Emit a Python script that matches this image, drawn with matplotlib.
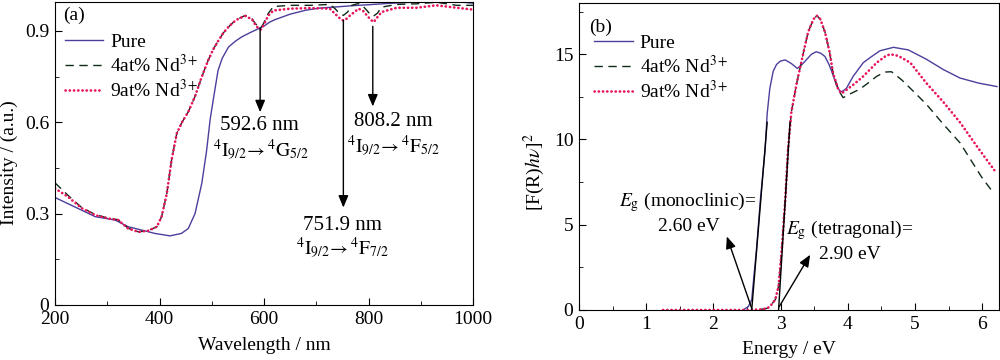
import matplotlib
matplotlib.use("Agg")
import matplotlib.pyplot as plt
from matplotlib.ticker import MultipleLocator

plt.rcParams['font.family'] = ['Liberation Serif', 'DejaVu Serif']
plt.rcParams['mathtext.fontset'] = 'stix'
plt.rcParams['font.size'] = 14

# (a) reflectance spectra
wl_pure = [200, 238, 277, 315, 340, 366, 391, 420, 442, 455, 468, 481, 490, 497, 503,
           512, 520, 532, 545, 557, 573, 589, 600, 611, 621, 650, 680, 707, 740, 771,
           800, 835, 870, 899, 930, 962, 1000]
int_pure = [0.353, 0.322, 0.290, 0.279, 0.257, 0.246, 0.235, 0.227, 0.235, 0.251, 0.300,
            0.400, 0.505, 0.610, 0.675, 0.770, 0.810, 0.847, 0.866, 0.880, 0.894, 0.907,
            0.916, 0.929, 0.937, 0.955, 0.968, 0.975, 0.979, 0.983, 0.986, 0.990, 0.993,
            0.995, 0.996, 0.997, 0.991]

wl_4 = [200, 225, 251, 277, 302, 321, 340, 360, 379, 395, 404, 414, 423, 433, 443, 455,
        468, 480, 493, 503, 513, 522, 532, 541, 551, 564, 577, 583, 589, 594, 599, 608,
        618, 650, 688, 726, 736, 744, 752, 760, 768, 781, 790, 797, 803, 809, 817, 825,
        854, 892, 930, 969, 1000]
int_4 = [0.401, 0.360, 0.320, 0.297, 0.285, 0.280, 0.252, 0.240, 0.245, 0.257, 0.290,
         0.366, 0.475, 0.563, 0.600, 0.634, 0.685, 0.745, 0.803, 0.840, 0.869, 0.893,
         0.913, 0.928, 0.940, 0.951, 0.940, 0.925, 0.913, 0.910, 0.924, 0.957, 0.980,
         0.984, 0.984, 0.987, 0.973, 0.958, 0.951, 0.962, 0.984, 0.990, 0.980, 0.967,
         0.955, 0.948, 0.958, 0.978, 0.987, 0.989, 0.994, 0.984, 0.984]

wl_9 = [200, 225, 251, 277, 302, 321, 340, 360, 379, 395, 404, 414, 423, 433, 443, 455,
        468, 480, 493, 503, 513, 522, 532, 541, 551, 564, 577, 583, 589, 594, 599, 608,
        618, 650, 688, 726, 739, 746, 752, 758, 765, 781, 790, 797, 804, 810, 817, 825,
        854, 892, 930, 969, 1000]
int_9 = [0.383, 0.355, 0.318, 0.295, 0.284, 0.279, 0.251, 0.240, 0.244, 0.257, 0.290,
         0.366, 0.475, 0.563, 0.600, 0.634, 0.685, 0.745, 0.803, 0.840, 0.869, 0.893,
         0.913, 0.928, 0.940, 0.949, 0.938, 0.922, 0.908, 0.905, 0.918, 0.950, 0.967,
         0.973, 0.975, 0.973, 0.951, 0.940, 0.934, 0.940, 0.951, 0.973, 0.965, 0.951,
         0.937, 0.929, 0.945, 0.962, 0.976, 0.976, 0.984, 0.976, 0.970]

# (b) Kubelka-Munk plots
E_pure = [2.45, 2.52, 2.57, 2.64, 2.70, 2.77, 2.80, 2.84, 2.89, 2.94, 3.00,
          3.07, 3.16, 3.25, 3.32, 3.39, 3.46, 3.53, 3.60, 3.66, 3.72, 3.76, 3.83, 3.88,
          3.91, 3.95, 3.98, 4.08, 4.23, 4.35, 4.48, 4.68, 4.90, 5.17, 5.42, 5.67, 5.95, 6.22]
F_pure = [0.02, 0.2, 0.6, 3.5, 6.5, 9.4, 11.5, 13.0, 14.0, 14.4, 14.6,
          14.66, 14.45, 14.16, 14.4, 14.7, 15.0, 15.14, 15.05, 14.86, 14.4, 14.0, 13.2, 12.85,
          12.8, 12.9, 13.0, 13.7, 14.5, 14.85, 15.2, 15.4, 15.25, 14.7, 14.1, 13.6, 13.3, 13.1]

E_4 = [2.7, 2.8, 2.84, 2.88, 2.92, 2.97, 3.02, 3.07, 3.11, 3.16, 3.24,
       3.34, 3.41, 3.49, 3.54, 3.59, 3.66, 3.73, 3.78, 3.86, 3.93, 4.05, 4.18, 4.30, 4.43,
       4.55, 4.65, 4.80, 4.93, 5.17, 5.42, 5.67, 5.99, 6.16]
F_4 = [0.03, 0.1, 0.2, 0.4, 0.6, 1.4, 3.7, 6.5, 9.4, 11.6, 13.3,
       15.1, 16.3, 17.06, 17.25, 17.06, 16.3, 15.1, 13.9, 12.9, 12.45, 12.7, 12.95, 13.3, 13.7,
       13.95, 13.97, 13.5, 13.0, 12.06, 10.9, 9.8, 7.8, 6.9]

E_9 = [1.25, 2.0, 2.5, 2.7, 2.8, 2.84, 2.88, 2.92, 2.97, 3.02, 3.07, 3.11, 3.16, 3.24,
       3.34, 3.41, 3.49, 3.54, 3.59, 3.66, 3.73, 3.78, 3.86, 3.91, 4.08, 4.23, 4.43, 4.55,
       4.63, 4.75, 4.93, 5.05, 5.17, 5.42, 5.67, 5.92, 6.18]
F_9 = [0, 0, 0, 0.03, 0.1, 0.2, 0.4, 0.6, 1.4, 3.7, 6.5, 9.4, 11.6, 13.3,
       15.1, 16.3, 17.06, 17.25, 17.06, 16.3, 15.1, 13.9, 12.9, 12.7, 13.2, 13.7, 14.5, 14.85,
       15.0, 14.9, 14.5, 13.9, 13.3, 12.2, 11.0, 9.6, 8.2]

# tangent lines for band gap extrapolation
tan_mono_E = [2.57, 2.80]
tan_mono_F = [0, 11.0]
tan_tet_E = [2.97, 3.14]
tan_tet_F = [0, 11.0]

c_pure = '#4a3f9c'
c_4 = '#0f2a16'
c_9 = '#e8145c'

dot_style = dict(color=c_9, lw=1.9, linestyle=(0, (0.1, 1.5)), dash_capstyle='round')
dash_style = dict(color=c_4, lw=1.0, linestyle=(0, (6, 4)))

fig = plt.figure(figsize=(10, 3.6), dpi=100)
ax1 = fig.add_axes([0.055, 0.1528, 0.418, 0.8417])
ax2 = fig.add_axes([0.579, 0.1389, 0.420, 0.8528])

ax1.plot(wl_pure, int_pure, color=c_pure, lw=1.0, label='Pure')
ax1.plot(wl_4, int_4, label='4at% Nd$^{3+}$', **dash_style)
ax1.plot(wl_9, int_9, label='9at% Nd$^{3+}$', **dot_style)

ax2.plot(E_pure, F_pure, color=c_pure, lw=1.0, label='Pure')
ax2.plot(E_4, F_4, label='4at% Nd$^{3+}$', **dash_style)
ax2.plot(E_9, F_9, label='9at% Nd$^{3+}$', **dot_style)
ax2.plot(tan_mono_E, tan_mono_F, color='k', lw=1.0)
ax2.plot(tan_tet_E, tan_tet_F, color='k', lw=1.0)

ax1.set_xlim(200, 1000)
ax1.set_ylim(0, 0.995)
ax1.xaxis.set_major_locator(MultipleLocator(200))
ax1.xaxis.set_minor_locator(MultipleLocator(100))
ax1.yaxis.set_minor_locator(MultipleLocator(0.15))
ax1.set_yticks([0, 0.3, 0.6, 0.9])
ax1.set_yticklabels(['0', '0.3', '0.6', '0.9'])
ax1.set_xlabel('Wavelength / nm')
ax1.set_ylabel('Intensity / (a.u.)')
ax1.xaxis.set_label_coords(0.5, -0.105)
ax1.yaxis.set_label_coords(-0.088, 0.47)

ax2.set_xlim(0, 6.25)
ax2.set_ylim(0, 18)
ax2.xaxis.set_major_locator(MultipleLocator(1))
ax2.xaxis.set_minor_locator(MultipleLocator(0.5))
ax2.yaxis.set_major_locator(MultipleLocator(5))
ax2.yaxis.set_minor_locator(MultipleLocator(2.5))
ax2.set_xlabel('Energy / eV')
ax2.set_ylabel('[F(R)$h\\nu$]$^2$')
ax2.xaxis.set_label_coords(0.5, -0.10)
ax2.yaxis.set_label_coords(-0.076, 0.45)

for ax, lx in ((ax1, -0.005), (ax2, 0.008)):
    ax.tick_params(which='both', direction='in', top=False, right=False, labelsize=14, pad=4)
    ax.tick_params(which='major', length=5)
    ax.tick_params(which='minor', length=3)
    ax.legend(loc='upper left', bbox_to_anchor=(lx, 0.935), frameon=False, fontsize=14,
              handlelength=2.0, labelspacing=0.15, handletextpad=0.35, borderaxespad=0.2)

ax1.text(0.02, 0.985, '(a)', transform=ax1.transAxes, ha='left', va='top', fontsize=14)
ax2.text(0.025, 0.95, '(b)', transform=ax2.transAxes, ha='left', va='top', fontsize=14)

arr = dict(arrowstyle='-|>,head_length=0.6,head_width=0.25', color='k', lw=1.0,
           mutation_scale=12, shrinkA=0, shrinkB=0)

# Nd3+ absorption bands
ax1.annotate('', xy=(592.6, 0.633), xytext=(592.6, 0.91), arrowprops=arr)
ax1.annotate('', xy=(751.9, 0.32), xytext=(751.9, 0.935), arrowprops=arr)
ax1.annotate('', xy=(808.2, 0.652), xytext=(808.2, 0.915), arrowprops=arr)
ax1.text(592, 0.59, '592.6 nm', ha='center', va='center', fontsize=15)
ax1.text(594, 0.508, r'$^4\mathrm{I}_{9/2}\!\rightarrow{}^4\mathrm{G}_{5/2}$',
         ha='center', va='center', fontsize=14)
ax1.text(847, 0.603, '808.2 nm', ha='center', va='center', fontsize=15)
ax1.text(847, 0.521, r'$^4\mathrm{I}_{9/2}\!\rightarrow{}^4\mathrm{F}_{5/2}$',
         ha='center', va='center', fontsize=14)
ax1.text(751, 0.262, '751.9 nm', ha='center', va='center', fontsize=15)
ax1.text(751, 0.187, r'$^4\mathrm{I}_{9/2}\!\rightarrow{}^4\mathrm{F}_{7/2}$',
         ha='center', va='center', fontsize=14)

# band gaps
ax2.annotate('', xy=(2.20, 4.31), xytext=(2.57, 0.1), arrowprops=arr)
ax2.annotate('', xy=(3.44, 3.24), xytext=(2.98, 0.2), arrowprops=arr)
ax2.text(1.62, 6.35, r'$E_\mathrm{g}$ (monoclinic)=', ha='center', va='center', fontsize=14)
ax2.text(1.63, 4.9, '2.60 eV', ha='center', va='center', fontsize=14)
ax2.text(4.03, 4.7, r'$E_\mathrm{g}$ (tetragonal)=', ha='center', va='center', fontsize=14)
ax2.text(4.03, 3.24, '2.90 eV', ha='center', va='center', fontsize=14)

fig.savefig('out.png', dpi=100)
